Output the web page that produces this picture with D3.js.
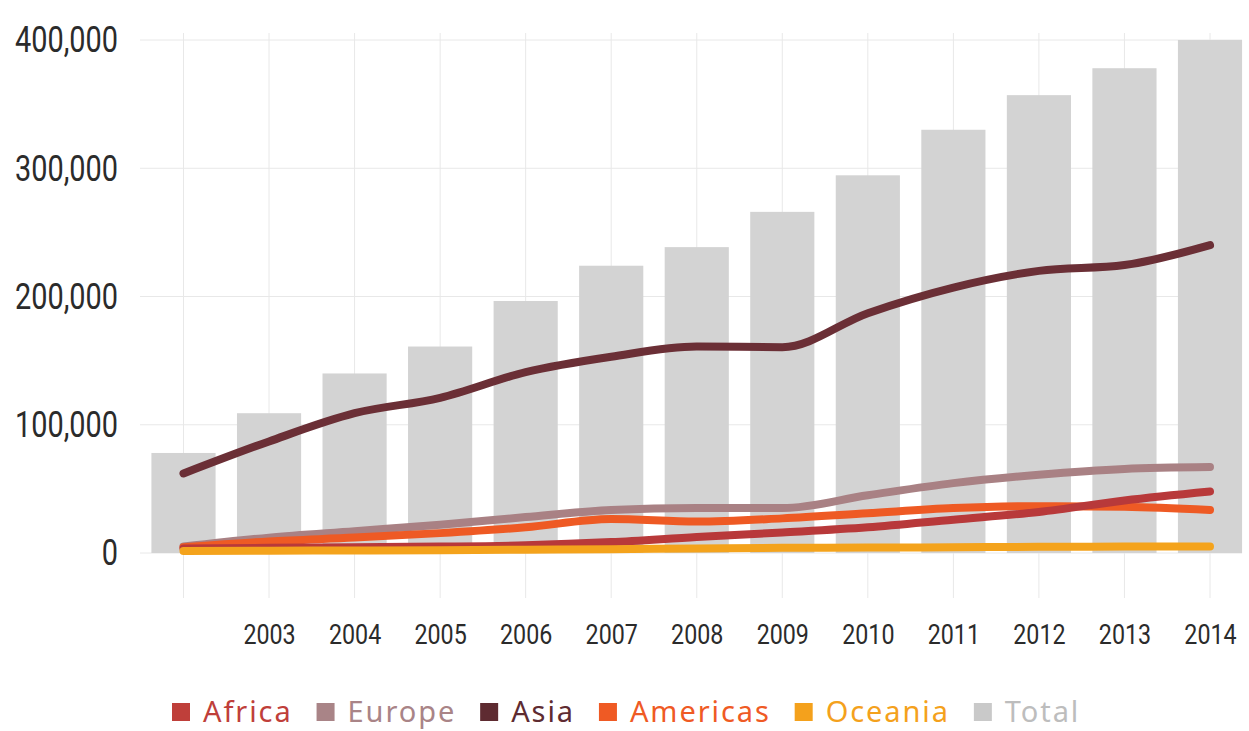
<!DOCTYPE html>
<html>
<head>
<meta charset="utf-8">
<script src="https://cdn.jsdelivr.net/npm/d3@7"></script>
<style>
  html, body { margin: 0; padding: 0; background: #fff; }
  svg { display: block; }
</style>
</head>
<body>
<div id="chart"></div>
<script>
// --- Data ---
const years = [2002, 2003, 2004, 2005, 2006, 2007, 2008, 2009, 2010, 2011, 2012, 2013, 2014];
const yearLabels = ['', '2003', '2004', '2005', '2006', '2007', '2008', '2009', '2010', '2011', '2012', '2013', '2014'];
const total    = [78000, 109000, 140000, 161000, 196500, 224000, 238500, 266000, 294500, 330000, 357000, 378000, 400000];
const asia     = [62000, 87000, 109000, 121000, 141000, 153000, 161000, 160500, 187000, 207000, 220000, 224500, 240000];
const europe   = [5000, 12000, 17000, 22000, 28000, 33500, 35000, 35000, 45000, 54500, 61000, 65500, 67000];
const americas = [4500, 9000, 12000, 15500, 20000, 26500, 24500, 27000, 31000, 35000, 36500, 36000, 33500];
const africa   = [3500, 4000, 4500, 5000, 6000, 8500, 12500, 16000, 20000, 26000, 32000, 41000, 48000];
const oceania  = [1500, 1800, 2000, 2200, 2500, 3000, 3500, 4000, 4200, 4500, 4800, 5000, 5000];
const yTicks = [0, 100000, 200000, 300000, 400000];

const legendItems = [
  { name: 'Africa',   color: '#bf3f3a' },
  { name: 'Europe',   color: '#a98487' },
  { name: 'Asia',     color: '#5e2b31' },
  { name: 'Americas', color: '#ef5a24' },
  { name: 'Oceania',  color: '#f4a11c' },
  { name: 'Total',    color: '#c9c9c9', text: '#bdbdbd' }
];

const lineSeries = [
  { key: 'Europe',   values: europe,   color: '#a98184' },
  { key: 'Americas', values: americas, color: '#ee5a24' },
  { key: 'Africa',   values: africa,   color: '#b8393a' },
  { key: 'Oceania',  values: oceania,  color: '#f4a31c' },
  { key: 'Asia',     values: asia,     color: '#6b2f36' }
];

const W = 1249, H = 731;
const svg = d3.select('#chart').append('svg')
  .attr('width', W).attr('height', H)
  .attr('viewBox', `0 0 ${W} ${H}`);

// --- Scales ---
const x = d3.scalePoint().domain(years).range([183.5, 1210]);
const y = d3.scaleLinear().domain([0, 400000]).range([553, 40]);
const barW = x.step() * 0.75;

// no condensed font available, so squeeze Roboto horizontally
const numFont = "Roboto, sans-serif";
function condense(sel, k) {
  sel.each(function() {
    const len = this.getComputedTextLength();
    if (len > 0) d3.select(this).attr('textLength', len * k).attr('lengthAdjust', 'spacingAndGlyphs');
  });
}

// --- Grid ---
svg.append('g')
  .selectAll('line')
  .data(yTicks)
  .join('line')
    .attr('x1', 140).attr('x2', 1242)
    .attr('y1', d => y(d)).attr('y2', d => y(d))
    .attr('stroke', '#e8e8e8').attr('stroke-width', 1);

svg.append('g')
  .selectAll('line')
  .data(years)
  .join('line')
    .attr('x1', d => x(d)).attr('x2', d => x(d))
    .attr('y1', 33).attr('y2', 598)
    .attr('stroke', '#e8e8e8').attr('stroke-width', 1);

// --- Axes ---
const yAxis = svg.append('g')
  .attr('transform', 'translate(118,0)')
  .call(d3.axisLeft(y).tickValues(yTicks).tickSize(0).tickPadding(0)
    .tickFormat(d => d3.format(',')(d)));
yAxis.select('.domain').remove();
yAxis.selectAll('text')
  .attr('font-family', numFont)
  .attr('font-size', 37)
  .attr('fill', '#2b2b2b')
  .call(condense, 0.78);

const xAxis = svg.append('g')
  .attr('transform', 'translate(0,624)')
  .call(d3.axisBottom(x).tickSize(0).tickPadding(0)
    .tickFormat((d, i) => yearLabels[i]));
xAxis.select('.domain').remove();
xAxis.selectAll('text')
  .attr('font-family', numFont)
  .attr('font-size', 28)
  .attr('fill', '#2b2b2b')
  .call(condense, 0.83);

// --- Bars (Total) ---
svg.append('g')
  .selectAll('rect')
  .data(years)
  .join('rect')
    .attr('x', d => x(d) - barW / 2)
    .attr('width', barW)
    .attr('y', (d, i) => y(total[i]))
    .attr('height', (d, i) => y(0) - y(total[i]))
    .attr('fill', '#d3d3d3');

// --- Lines ---
const line = d3.line()
  .x((d, i) => x(years[i]))
  .y(d => y(d))
  .curve(d3.curveMonotoneX);

svg.append('g')
  .selectAll('path')
  .data(lineSeries)
  .join('path')
    .attr('d', d => line(d.values))
    .attr('fill', 'none')
    .attr('stroke', d => d.color)
    .attr('stroke-width', 8)
    .attr('stroke-linecap', 'round')
    .attr('stroke-linejoin', 'round');

// --- Legend ---
const legend = svg.append('g').attr('transform', 'translate(0,712)');
let lx = 172;
legendItems.forEach(item => {
  legend.append('rect')
    .attr('x', lx).attr('y', -9)
    .attr('width', 18).attr('height', 18)
    .attr('fill', item.color);
  const t = legend.append('text')
    .attr('x', lx + 31).attr('y', 0)
    .attr('dy', '0.36em')
    .attr('font-family', "'Noto Sans', 'Open Sans', sans-serif")
    .attr('font-size', 29)
    .attr('letter-spacing', 1.9)
    .attr('fill', item.text || item.color)
    .text(item.name);
  lx += 31 + t.node().getComputedTextLength() + 24;
});
</script>
</body>
</html>
